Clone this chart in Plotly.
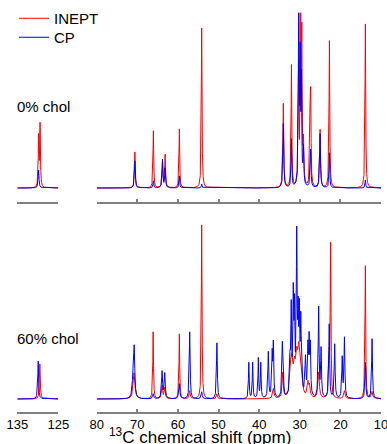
import numpy as np
import plotly.graph_objects as go

# ---------------- data (peak lists) ----------------
# 0% chol, aliphatic region (ppm, intensity, half-width ppm)
a_inept_ppm = [70.6, 66.05, 63.8, 63.15, 59.65, 54.15, 34.05, 32.05, 30.3, 29.8, 29.5, 29.1, 27.45, 27.3, 25.0, 22.7, 13.85]
a_inept_int = [36, 57, 26, 33, 59, 160, 84, 122, 120, 200, 140, 40, 62, 80, 58, 147, 164]
a_inept_hw = [0.12, 0.1, 0.12, 0.12, 0.1, 0.1, 0.12, 0.1, 0.1, 0.1, 0.1, 0.12, 0.1, 0.1, 0.12, 0.1, 0.1]
a_cp_ppm = [70.6, 66.05, 63.8, 63.15, 59.65, 54.15, 34.05, 32.05, 30.25, 29.9, 29.6, 29.1, 27.35, 25.0, 22.7, 13.85]
a_cp_int = [27, 7, 28, 19, 12, 4, 64, 48, 200, 120, 100, 36, 38, 54, 35, 8]
a_cp_hw = [0.12, 0.1, 0.12, 0.12, 0.1, 0.1, 0.12, 0.1, 0.1, 0.1, 0.1, 0.12, 0.12, 0.12, 0.1, 0.1]
# 0% chol, olefinic region
a_inept_ol_ppm = [129.8, 129.45]
a_inept_ol_int = [50, 62]
a_inept_ol_hw = [0.1, 0.1]
a_cp_ol_ppm = [129.8]
a_cp_ol_int = [18]
a_cp_ol_hw = [0.12]

# 60% chol, aliphatic region
b_inept_ppm = [70.8, 66.1, 63.9, 63.25, 59.65, 57.1, 54.15, 50.4, 36.5, 34.2, 32.2, 31.9, 31.3, 30.75, 30.25, 29.9, 29.45,
               28.0, 27.6, 25.35, 22.75, 22.4, 19.0, 13.85, 12.2]
b_inept_int = [26, 67, 13, 11, 65, 8, 174, 5, 10, 25, 24, 24, 24, 32, 34, 26, 10, 14, 11, 26, 40, 150, 8, 133, 7]
b_inept_hw = [0.25, 0.1, 0.15, 0.15, 0.1, 0.15, 0.1, 0.15, 0.2, 0.15, 0.3, 0.3, 0.3, 0.3, 0.3, 0.3, 0.2,
              0.2, 0.2, 0.2, 0.15, 0.1, 0.2, 0.1, 0.2]
b_cp_ppm = [71.0, 70.75, 66.1, 63.9, 63.25, 59.65, 57.1, 54.15, 50.4, 42.55, 41.6, 40.2, 39.6, 37.75, 36.8, 36.5,
            34.3, 34.1, 32.4, 32.1, 31.6, 31.3, 30.75, 30.4, 30.1, 29.75, 29.45, 28.6, 28.0, 27.7, 27.4,
            25.35, 24.75, 22.75, 21.4, 19.55, 19.0, 13.85, 12.2]
b_cp_int = [30, 42, 5, 27, 25, 15, 67, 7, 56, 36, 36, 40, 35, 46, 42, 52, 48, 30, 35, 85, 95, 80, 155, 70, 75, 70,
            20, 38, 46, 52, 48, 90, 48, 74, 54, 40, 60, 36, 60]
b_cp_hw = [0.2, 0.15, 0.15, 0.15, 0.15, 0.15, 0.12, 0.15, 0.12, 0.1, 0.1, 0.1, 0.1, 0.12, 0.12, 0.12,
           0.12, 0.12, 0.12, 0.12, 0.12, 0.12, 0.12, 0.12, 0.12, 0.12, 0.12, 0.15, 0.12, 0.12, 0.12,
           0.12, 0.12, 0.12, 0.12, 0.12, 0.12, 0.12, 0.12]
# 60% chol, olefinic region
b_inept_ol_ppm = [129.5]
b_inept_ol_int = [35]
b_inept_ol_hw = [0.12]
b_cp_ol_ppm = [129.9]
b_cp_ol_int = [38]
b_cp_ol_hw = [0.12]

series_names = ["INEPT", "CP"]
sample_labels = ["0% chol", "60% chol"]
ticks_olefinic = [135, 125]
ticks_aliphatic = [80, 70, 60, 50, 40, 30, 20, 10]

RED = "#ff0000"
BLUE = "#0000ff"


def spectrum(grid, ppm, inten, hw):
    y = np.zeros_like(grid)
    for p, h, w in zip(ppm, inten, hw):
        y += h / (1.0 + ((grid - p) / w) ** 2)
    return y


grid_al = np.round(np.arange(10.0, 80.0005, 0.01), 3)
grid_ol = np.round(np.arange(125.0, 135.0005, 0.01), 3)

fig = go.Figure()

panels = [
    ("x", "x2", "y", (a_inept_ol_ppm, a_inept_ol_int, a_inept_ol_hw), (a_cp_ol_ppm, a_cp_ol_int, a_cp_ol_hw),
     (a_inept_ppm, a_inept_int, a_inept_hw), (a_cp_ppm, a_cp_int, a_cp_hw), True),
    ("x3", "x4", "y2", (b_inept_ol_ppm, b_inept_ol_int, b_inept_ol_hw), (b_cp_ol_ppm, b_cp_ol_int, b_cp_ol_hw),
     (b_inept_ppm, b_inept_int, b_inept_hw), (b_cp_ppm, b_cp_int, b_cp_hw), False),
]

for xo, xa, yy, inept_ol, cp_ol, inept_al, cp_al, legend in panels:
    fig.add_trace(go.Scatter(x=grid_ol, y=spectrum(grid_ol, *inept_ol), xaxis=xo, yaxis=yy, mode="lines",
                             line=dict(color=RED, width=1), name=series_names[0], showlegend=False,
                             legend="legend", hoverinfo="skip"))
    fig.add_trace(go.Scatter(x=grid_al, y=spectrum(grid_al, *inept_al), xaxis=xa, yaxis=yy, mode="lines",
                             line=dict(color=RED, width=1), name=series_names[0], showlegend=legend,
                             legend="legend", hoverinfo="skip"))
for xo, xa, yy, inept_ol, cp_ol, inept_al, cp_al, legend in panels:
    fig.add_trace(go.Scatter(x=grid_ol, y=spectrum(grid_ol, *cp_ol), xaxis=xo, yaxis=yy, mode="lines",
                             line=dict(color=BLUE, width=1), name=series_names[1], showlegend=False,
                             legend="legend2", hoverinfo="skip"))
    fig.add_trace(go.Scatter(x=grid_al, y=spectrum(grid_al, *cp_al), xaxis=xa, yaxis=yy, mode="lines",
                             line=dict(color=BLUE, width=1), name=series_names[1], showlegend=legend,
                             legend="legend2", hoverinfo="skip"))

# final canvas (the window) and the initial canvas (window minus the default 8px body margin)
W, H = 387, 444
W0, H0 = W - 16, H - 16


def px_x(a, b):
    return [a / W, b / W]


def px_y(top, bottom):
    return [1 - bottom / H, 1 - top / H]


FONT = "Liberation Sans, Arial, sans-serif"
axis_common = dict(showline=True, linecolor="#808080", linewidth=1.5, ticks="inside", ticklen=3,
                   tickwidth=1.5, tickcolor="#808080", showgrid=False, zeroline=False,
                   tickfont=dict(family=FONT, size=13, color="black"), ticklabeloverflow="allow")
legend_common = dict(xanchor="left", yanchor="top", bgcolor="rgba(0,0,0,0)",
                     font=dict(family=FONT, size=15, color="black"), borderwidth=0, itemwidth=30)

fig.update_layout(
    width=W0, height=H0,
    margin=dict(l=0, r=0, t=0, b=0, autoexpand=False),
    paper_bgcolor="white", plot_bgcolor="white",
    showlegend=True,
    legend=dict(x=14 / W, y=1 - 2 / H, **legend_common),
    legend2=dict(x=14 / W, y=1 - 21 / H, **legend_common),
    xaxis=dict(domain=px_x(17.3, 58.3), range=[135, 125], anchor="y", tickvals=ticks_olefinic,
               showticklabels=False, **axis_common),
    xaxis2=dict(domain=px_x(96.7, 381), range=[80, 10], anchor="y", tickvals=ticks_aliphatic,
                showticklabels=False, **axis_common),
    xaxis3=dict(domain=px_x(17.3, 58.3), range=[135, 125], anchor="y2", tickvals=ticks_olefinic,
                showticklabels=True, **axis_common),
    xaxis4=dict(domain=px_x(96.7, 381), range=[80, 10], anchor="y2", tickvals=ticks_aliphatic,
                showticklabels=True, **axis_common),
    yaxis=dict(domain=px_y(12.7, 201.7), range=[-13.7, 175.3], visible=False, anchor="x"),
    yaxis2=dict(domain=px_y(220, 411.7), range=[-12.7, 179], visible=False, anchor="x3"),
    annotations=[
        dict(text=sample_labels[0], xref="paper", yref="paper", x=15 / W, y=1 - 107 / H,
             xanchor="left", yanchor="middle", showarrow=False,
             font=dict(family=FONT, size=15, color="black")),
        dict(text=sample_labels[1], xref="paper", yref="paper", x=15 / W, y=1 - 338 / H,
             xanchor="left", yanchor="middle", showarrow=False,
             font=dict(family=FONT, size=15, color="black")),
        dict(text="<sup>13</sup>C chemical shift (ppm)", xref="paper", yref="paper", x=199.5 / W,
             y=1 - 436 / H, xanchor="center", yanchor="middle", showarrow=False,
             font=dict(family=FONT, size=17, color="black")),
    ],
)

post = ("document.body.style.margin='0';document.body.style.padding='0';"
        "document.documentElement.style.overflow='hidden';"
        "var gd=document.getElementById('{plot_id}');"
        "Plotly.relayout(gd,{width:%d,height:%d});" % (W, H))

fig.write_html("out.html", config={"displayModeBar": False, "responsive": False}, post_script=post)
